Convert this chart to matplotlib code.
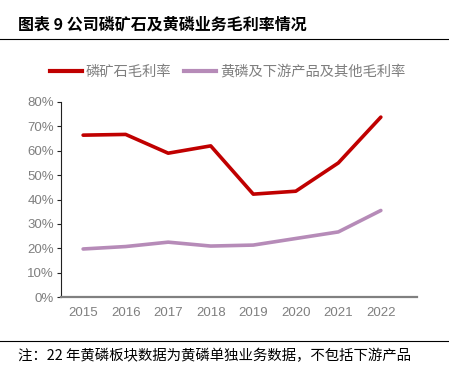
import matplotlib.pyplot as plt
from matplotlib.ticker import PercentFormatter
from matplotlib.lines import Line2D

plt.rcParams['font.family'] = ['Liberation Sans', 'Noto Sans CJK SC', 'DejaVu Sans']

# Données
annees = ['2015', '2016', '2017', '2018', '2019', '2020', '2021', '2022']
phosphate = [66.4, 66.7, 59.0, 62.0, 42.2, 43.4, 55.0, 73.8]
phosphore = [19.7, 20.7, 22.5, 20.9, 21.3, 24.0, 26.7, 35.5]

rouge = '#C00000'
violet = '#B68BB8'
gris = '#808080'

fig = plt.figure(figsize=(4.49, 3.69), dpi=100)
ax = fig.add_axes([61 / 449, 1 - 297 / 369, 356 / 449, 195 / 369])

x = range(len(annees))
ax.plot(x, phosphate, color=rouge, lw=2.6, solid_capstyle='round')
ax.plot(x, phosphore, color=violet, lw=2.6, solid_capstyle='round')

ax.set_xlim(-0.52, 7.85)
ax.set_ylim(0, 80)
ax.set_yticks(range(0, 81, 10))
ax.yaxis.set_major_formatter(PercentFormatter(decimals=0))
ax.set_xticks(list(x))
ax.set_xticklabels(annees)
ax.tick_params(axis='x', length=0, pad=7, labelsize=9.5, colors='#595959')
ax.tick_params(axis='y', length=3, width=0.8, direction='out', pad=2,
               labelsize=9.5, colors='#222222', labelcolor='#7f7f7f')
for lab in ax.get_xticklabels():
    lab.set_color('#7f7f7f')
for s in ['top', 'right']:
    ax.spines[s].set_visible(False)
ax.spines['left'].set_color('#222222')
ax.spines['left'].set_linewidth(0.8)
ax.spines['bottom'].set_color(gris)
ax.spines['bottom'].set_linewidth(1.6)

handles = [Line2D([], [], color=rouge, lw=3),
           Line2D([], [], color=violet, lw=3)]
fig.legend(handles, ['磷矿石毛利率', '黄磷及下游产品及其他毛利率'],
           loc='center', bbox_to_anchor=(0.507, 1 - 72 / 369), ncol=2,
           frameon=False, handlelength=2.2, columnspacing=0.9, handletextpad=0.3,
           prop={'family': ['Noto Sans CJK SC'], 'size': 10.3}, labelcolor='#7f7f7f')

# Titre et note
fig.text(18 / 449, 1 - 25 / 369, '图表 9 公司磷矿石及黄磷业务毛利率情况',
         fontsize=11.5, fontweight='bold', family=['Noto Sans CJK SC'],
         va='center', ha='left', color='black')
fig.add_artist(Line2D([0, 1], [1 - 39 / 369] * 2, color='black', lw=0.8))
fig.add_artist(Line2D([0, 1], [1 - 341 / 369] * 2, color='black', lw=0.8))
fig.text(18 / 449, 1 - 356 / 369, '注：22 年黄磷板块数据为黄磷单独业务数据，不包括下游产品',
         fontsize=10.4, family=['Noto Sans CJK SC'], va='center', ha='left', color='black')

fig.savefig('out.png', dpi=100)
